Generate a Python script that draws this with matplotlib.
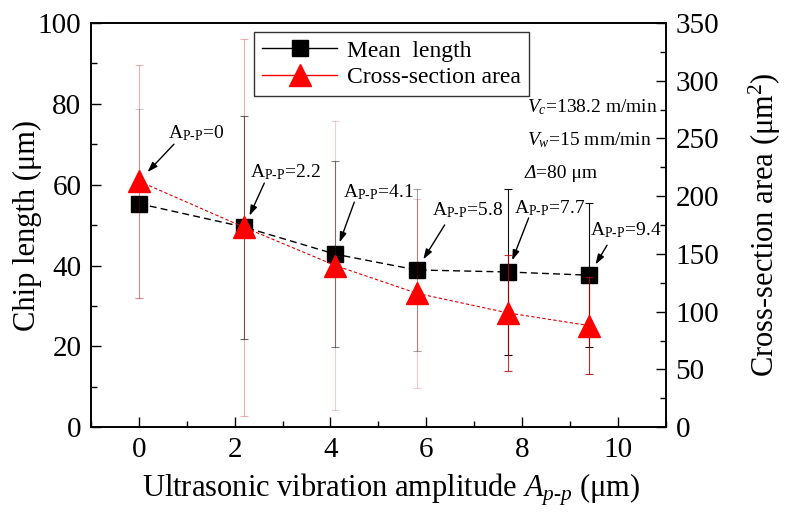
import matplotlib
matplotlib.use("Agg")
import matplotlib.pyplot as plt
from matplotlib.lines import Line2D
from matplotlib.ticker import MultipleLocator

# chip measurements vs ultrasonic amplitude
amp = [0, 2.2, 4.1, 5.8, 7.7, 9.4]
mean_len = [55.3, 49.5, 42.8, 38.9, 38.4, 37.6]
len_err = [23.3, 27.6, 23.0, 20.1, 20.5, 17.8]
area = [213, 173, 140, 116, 99, 88]
area_err = [101, 163, 125, 82, 50, 42]
amp_labels = ["0", "2.2", "4.1", "5.8", "7.7", "9.4"]

plt.rcParams["font.family"] = "serif"
plt.rcParams["font.serif"] = ["Liberation Serif", "DejaVu Serif"]
plt.rcParams["mathtext.fontset"] = "custom"
plt.rcParams["mathtext.rm"] = "Liberation Serif"
plt.rcParams["mathtext.it"] = "Liberation Serif:italic"

fig = plt.figure(figsize=(7.85, 5.21), dpi=100)
ax1 = fig.add_axes([0.116, 0.180, 0.732, 0.776])
ax2 = ax1.twinx()

# error bars drawn point by point (the faint ones look washed out in the original)
len_alpha = [0.2, 0.6, 0.5, 0.35, 0.95, 0.95]
area_alpha = [0.3, 0.3, 0.2, 0.2, 0.8, 0.85]
for i in range(len(amp)):
    ax1.errorbar(amp[i], mean_len[i], yerr=len_err[i], fmt="none", ecolor="black",
                 elinewidth=0.8, capsize=3, capthick=0.8, alpha=len_alpha[i], zorder=1)
    ax2.errorbar(amp[i], area[i], yerr=area_err[i], fmt="none", ecolor="#c00000",
                 elinewidth=0.8, capsize=3, capthick=0.8, alpha=area_alpha[i], zorder=1)

ax1.plot(amp, mean_len, color="black", lw=1, ls=(0, (5, 3)), marker="s", ms=12,
         mfc="black", mec="black", zorder=3)
ax2.plot(amp, area, color="#e00000", lw=0.8, ls=(0, (3, 2)), marker="^", ms=16,
         mfc="red", mec="red", zorder=3)

ax1.set_xlim(-1, 11)
ax1.set_ylim(0, 100)
ax2.set_ylim(0, 350)
ax1.xaxis.set_major_locator(MultipleLocator(2))
ax1.xaxis.set_minor_locator(MultipleLocator(1))
ax1.yaxis.set_major_locator(MultipleLocator(20))
ax1.yaxis.set_minor_locator(MultipleLocator(10))
ax2.yaxis.set_major_locator(MultipleLocator(50))
ax2.yaxis.set_minor_locator(MultipleLocator(25))

ax1.tick_params(which="both", direction="in", top=False, right=False, labelsize=21, pad=7)
ax1.tick_params(which="major", length=7, width=1)
ax1.tick_params(which="minor", length=4, width=1)
ax2.tick_params(which="both", direction="in", labelsize=21, pad=7)
ax2.tick_params(which="major", length=7, width=1)
ax2.tick_params(which="minor", length=4, width=1)
for ax in (ax1, ax2):
    for sp in ax.spines.values():
        sp.set_linewidth(1.2)

ax1.set_xlabel(r"Ultrasonic vibration amplitude $\mathit{A}_{p\text{-}p}$ (μm)", fontsize=22)
ax1.xaxis.set_label_coords(0.522, -0.11)
ax1.set_ylabel("Chip length (μm)", fontsize=22)
ax1.yaxis.set_label_coords(-0.086, 0.5)
ax2.set_ylabel(r"Cross-section area (μm$^\mathrm{2}$)", fontsize=22)
ax2.yaxis.set_label_coords(1.142, 0.5)

# amplitude callouts with arrows (offsets in pixels)
text_off = [(29, 43), (6, 50), (8, 57), (15, 55), (6, 59), (1, 40)]
tail_off = [(35, 37), (20, 44), (19, 52), (28, 45), (21, 54), (18, 30)]
for i in range(len(amp)):
    if i == 0:
        axx, yy = ax2, area[i]
    else:
        axx, yy = ax1, mean_len[i]
    axx.annotate("A$_\\mathrm{P\\text{-}P}$=" + amp_labels[i], xy=(amp[i], yy),
                 xytext=text_off[i], textcoords="offset pixels", ha="left", va="baseline",
                 fontsize=14, zorder=6)
    axx.annotate("", xy=(amp[i], yy), xytext=tail_off[i], textcoords="offset pixels",
                 arrowprops=dict(arrowstyle="-|>,head_length=0.6,head_width=0.2",
                                 color="black", lw=1, shrinkA=0, shrinkB=9),
                 zorder=6)

ax1.text(0.758, 0.78, r"$\mathit{V}_{c}$=138.2 m/min", transform=ax1.transAxes, fontsize=14)
ax1.text(0.758, 0.698, r"$\mathit{V}_{w}$=15 mm/min", transform=ax1.transAxes, fontsize=14)
ax1.text(0.755, 0.616, "Δ", transform=ax1.transAxes, fontsize=14, style="italic")
ax1.text(0.775, 0.616, "=80 μm", transform=ax1.transAxes, fontsize=14)

handles = [
    Line2D([], [], color="black", lw=1, marker="s", ms=12, mfc="black", mec="black"),
    Line2D([], [], color="red", lw=1, marker="^", ms=16, mfc="red", mec="red"),
]
leg = ax2.legend(handles, ["Mean  length", "Cross-section area"], loc="upper left",
                 bbox_to_anchor=(0.283, 0.978), fontsize=17, frameon=True, fancybox=False,
                 edgecolor="black", handlelength=3.2, borderpad=0.35, labelspacing=0.2,
                 handletextpad=0.4, borderaxespad=0)
leg.get_frame().set_linewidth(1)
leg.set_zorder(10)

fig.savefig("out.png", dpi=100)
